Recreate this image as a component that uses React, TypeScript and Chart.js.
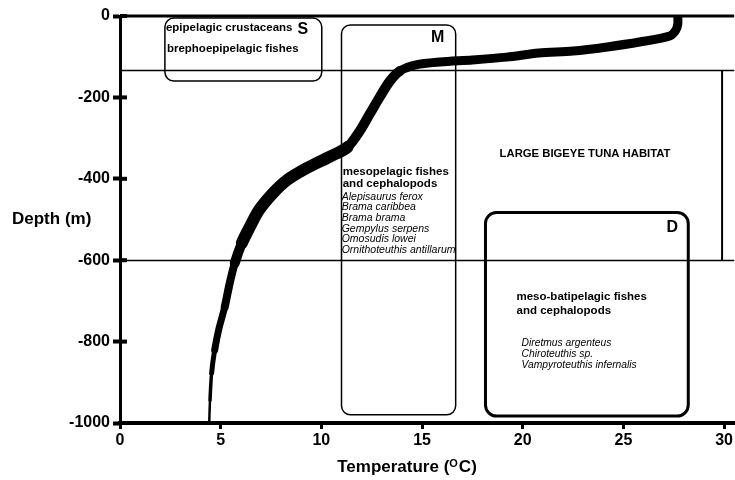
import React, { useEffect, useRef } from "react";
import { Chart, registerables } from "chart.js";

Chart.register(...registerables);

// ---- data ----
const TEMP_TICKS = [0, 5, 10, 15, 20, 25, 30];
const DEPTH_TICKS = [0, -200, -400, -600, -800, -1000];

const PROFILE_TEMP = [
  27.7, 27.7, 27.6, 27.3, 25.8, 24.2, 22.5, 20.8, 19.2, 17.5, 15.9, 14.7, 13.9,
  13.4, 12.9, 12.4, 11.9, 11.3, 10.4, 9.3, 8.3, 7.6, 6.9, 6.45, 6.05, 5.7, 5.45,
  5.2, 4.9, 4.7, 4.55, 4.47, 4.43,
];
const PROFILE_DEPTH = [
  0, -20, -35, -49, -64, -76, -86, -91, -101, -108, -113, -120, -135, -160,
  -199, -241, -283, -322, -346, -373, -403, -435, -477, -518, -558, -607, -656,
  -715, -771, -821, -877, -944, -1000,
];

// zone boundaries (depth, m) and boxes (temperature / depth units)
const ZONE_LINES = [-133, -600];
const HABITAT_BAR_TEMP = 29.9;
const BOXES = [
  { t0: 2.23, t1: 10.02, d0: -5, d1: -160, r: 9, w: 1.5 },
  { t0: 11.0, t1: 16.67, d0: -22, d1: -980, r: 9, w: 1.5 },
  { t0: 18.15, t1: 28.22, d0: -483, d1: -983, r: 11, w: 3 },
];

const FONT = "'Liberation Sans', Arial, sans-serif";

type Label = { text: string; t: number; d: number; font: string; align: CanvasTextAlign };
const LABELS: Label[] = [
  { text: "epipelagic crustaceans", t: 2.28, d: -29.5, font: `bold 11.5px ${FONT}`, align: "left" },
  { text: "S", t: 9.08, d: -34, font: `bold 16px ${FONT}`, align: "center" },
  { text: "brephoepipelagic fishes", t: 2.33, d: -81, font: `bold 11.5px ${FONT}`, align: "left" },
  { text: "M", t: 15.77, d: -54, font: `bold 16px ${FONT}`, align: "center" },
  { text: "mesopelagic fishes", t: 11.06, d: -383, font: `bold 11.5px ${FONT}`, align: "left" },
  { text: "and cephalopods", t: 11.06, d: -413, font: `bold 11.5px ${FONT}`, align: "left" },
  { text: "Alepisaurus ferox", t: 11.01, d: -445, font: `italic 10.5px ${FONT}`, align: "left" },
  { text: "Brama caribbea", t: 11.01, d: -469, font: `italic 10.5px ${FONT}`, align: "left" },
  { text: "Brama brama", t: 11.01, d: -496, font: `italic 10.5px ${FONT}`, align: "left" },
  { text: "Gempylus serpens", t: 11.01, d: -523, font: `italic 10.5px ${FONT}`, align: "left" },
  { text: "Omosudis lowei", t: 11.01, d: -548, font: `italic 10.5px ${FONT}`, align: "left" },
  { text: "Ornithoteuthis antillarum", t: 11.01, d: -575, font: `italic 10.5px ${FONT}`, align: "left" },
  { text: "LARGE BIGEYE TUNA HABITAT", t: 18.85, d: -339, font: `bold 11.3px ${FONT}`, align: "left" },
  { text: "D", t: 27.43, d: -521, font: `bold 16px ${FONT}`, align: "center" },
  { text: "meso-batipelagic fishes", t: 19.69, d: -690, font: `bold 11.5px ${FONT}`, align: "left" },
  { text: "and cephalopods", t: 19.69, d: -725, font: `bold 11.5px ${FONT}`, align: "left" },
  { text: "Diretmus argenteus", t: 19.94, d: -803, font: `italic 10.3px ${FONT}`, align: "left" },
  { text: "Chiroteuthis sp.", t: 19.94, d: -830, font: `italic 10.3px ${FONT}`, align: "left" },
  { text: "Vampyroteuthis infernalis", t: 19.94, d: -857, font: `italic 10.3px ${FONT}`, align: "left" },
];

const annotations = {
  id: "annotations",
  beforeDatasetsDraw(chart: any) {
    const { ctx, chartArea, scales } = chart;
    const xs = scales.x;
    const ys = scales.y;
    ctx.save();
    ctx.strokeStyle = "#000";
    ctx.lineWidth = 1.5;
    ZONE_LINES.forEach((d) => {
      const y = Math.round(ys.getPixelForValue(d)) + 0.5;
      ctx.beginPath();
      ctx.moveTo(chartArea.left, y);
      ctx.lineTo(chartArea.right, y);
      ctx.stroke();
    });
    ctx.lineWidth = 2;
    const bx = xs.getPixelForValue(HABITAT_BAR_TEMP);
    ctx.beginPath();
    ctx.moveTo(bx, ys.getPixelForValue(ZONE_LINES[0]));
    ctx.lineTo(bx, ys.getPixelForValue(ZONE_LINES[1]));
    ctx.stroke();
    ctx.restore();
  },
  afterDatasetsDraw(chart: any) {
    const { ctx, scales } = chart;
    const xs = scales.x;
    const ys = scales.y;
    ctx.save();
    ctx.strokeStyle = "#000";
    BOXES.forEach((b) => {
      const x0 = xs.getPixelForValue(b.t0);
      const x1 = xs.getPixelForValue(b.t1);
      const y0 = ys.getPixelForValue(b.d0);
      const y1 = ys.getPixelForValue(b.d1);
      ctx.lineWidth = b.w;
      ctx.beginPath();
      ctx.roundRect(x0, y0, x1 - x0, y1 - y0, b.r);
      ctx.stroke();
    });
    ctx.fillStyle = "#000";
    ctx.textBaseline = "middle";
    LABELS.forEach((l) => {
      ctx.font = l.font;
      ctx.textAlign = l.align;
      ctx.fillText(l.text, xs.getPixelForValue(l.t), ys.getPixelForValue(l.d));
    });
    ctx.restore();
  },
  afterDraw(chart: any) {
    const { ctx, chartArea, scales } = chart;
    ctx.save();
    // top frame line
    ctx.strokeStyle = "#000";
    ctx.lineWidth = 3;
    ctx.beginPath();
    ctx.moveTo(chartArea.left, chartArea.top);
    ctx.lineTo(chartArea.right, chartArea.top);
    ctx.stroke();
    // y tick marks crossing into the plot
    ctx.lineWidth = 4;
    DEPTH_TICKS.forEach((v) => {
      const y = scales.y.getPixelForValue(v);
      ctx.beginPath();
      ctx.moveTo(chartArea.left, y);
      ctx.lineTo(chartArea.left + 7, y);
      ctx.stroke();
    });
    // axis titles
    ctx.fillStyle = "#000";
    ctx.textBaseline = "middle";
    ctx.textAlign = "left";
    ctx.font = `bold 17px ${FONT}`;
    ctx.fillText("Depth (m)", 12, 219);
    const part1 = "Temperature (";
    const sup = "O";
    const part2 = "C)";
    ctx.font = `bold 17px ${FONT}`;
    const w1 = ctx.measureText(part1).width;
    const w3 = ctx.measureText(part2).width;
    ctx.font = `bold 11px ${FONT}`;
    const w2 = ctx.measureText(sup).width + 1;
    const total = w1 + w2 + w3;
    let x = 407 - total / 2;
    const y = 467;
    ctx.font = `bold 17px ${FONT}`;
    ctx.fillText(part1, x, y);
    x += w1;
    ctx.font = `bold 11px ${FONT}`;
    ctx.fillText(sup, x, y - 3);
    x += w2;
    ctx.font = `bold 17px ${FONT}`;
    ctx.fillText(part2, x, y);
    ctx.restore();
  },
};

export default function App() {
  const ref = useRef<HTMLCanvasElement | null>(null);
  useEffect(() => {
    if (!ref.current) return;
    const points = PROFILE_TEMP.map((t, i) => ({ x: t, y: PROFILE_DEPTH[i] }));
    const chart = new Chart(ref.current, {
      type: "scatter",
      data: {
        datasets: [
          {
            data: points,
            showLine: true,
            borderColor: "#000",
            backgroundColor: "#000",
            pointRadius: 0,
            borderWidth: 9,
            borderJoinStyle: "round",
            borderCapStyle: "round",
            tension: 0.3,
            segment: {
              borderWidth: (c: any) => {
                const d = c.p0.parsed.y;
                if (d > -130) return 9;
                if (d > -300) return 10;
                if (d > -520) return 12;
                if (d > -600) return 10;
                if (d > -700) return 8;
                if (d > -800) return 7;
                if (d > -870) return 5;
                if (d > -940) return 3.5;
                return 2.5;
              },
            },
          } as any,
        ],
      },
      options: {
        animation: false,
        responsive: false,
        maintainAspectRatio: false,
        devicePixelRatio: 1,
        layout: { padding: { top: 16, left: 0, right: 0, bottom: 0 } },
        plugins: { legend: { display: false }, tooltip: { enabled: false } },
        scales: {
          x: {
            type: "linear",
            min: 0,
            max: 30.5,
            afterBuildTicks: (s: any) => {
              s.ticks = TEMP_TICKS.map((v) => ({ value: v }));
            },
            afterFit: (s: any) => {
              s.height = 57;
            },
            grid: {
              display: true,
              drawOnChartArea: false,
              drawTicks: true,
              tickLength: 6,
              tickWidth: 3,
              tickColor: "#000",
            },
            border: { display: true, color: "#000", width: 4 },
            ticks: {
              color: "#000",
              font: { family: FONT, size: 16, weight: "bold" },
              padding: 2,
              maxRotation: 0,
              autoSkip: false,
              callback: (v: any) => String(v),
            },
          },
          y: {
            type: "linear",
            min: -1000,
            max: 0,
            afterBuildTicks: (s: any) => {
              s.ticks = DEPTH_TICKS.map((v) => ({ value: v }));
            },
            afterFit: (s: any) => {
              s.width = 120;
            },
            grid: {
              display: true,
              drawOnChartArea: false,
              drawTicks: true,
              tickLength: 7,
              tickWidth: 4,
              tickColor: "#000",
            },
            border: { display: true, color: "#000", width: 3 },
            ticks: {
              color: "#000",
              font: { family: FONT, size: 16, weight: "bold" },
              padding: 3,
              autoSkip: false,
              callback: (v: any) => String(v),
            },
          },
        },
      },
      plugins: [annotations],
    } as any);
    return () => chart.destroy();
  }, []);
  return (
    <div style={{ position: "absolute", left: 0, top: 0, width: 735, height: 480, background: "#fff" }}>
      <canvas ref={ref} width={735} height={480} style={{ width: 735, height: 480 }} />
    </div>
  );
}
